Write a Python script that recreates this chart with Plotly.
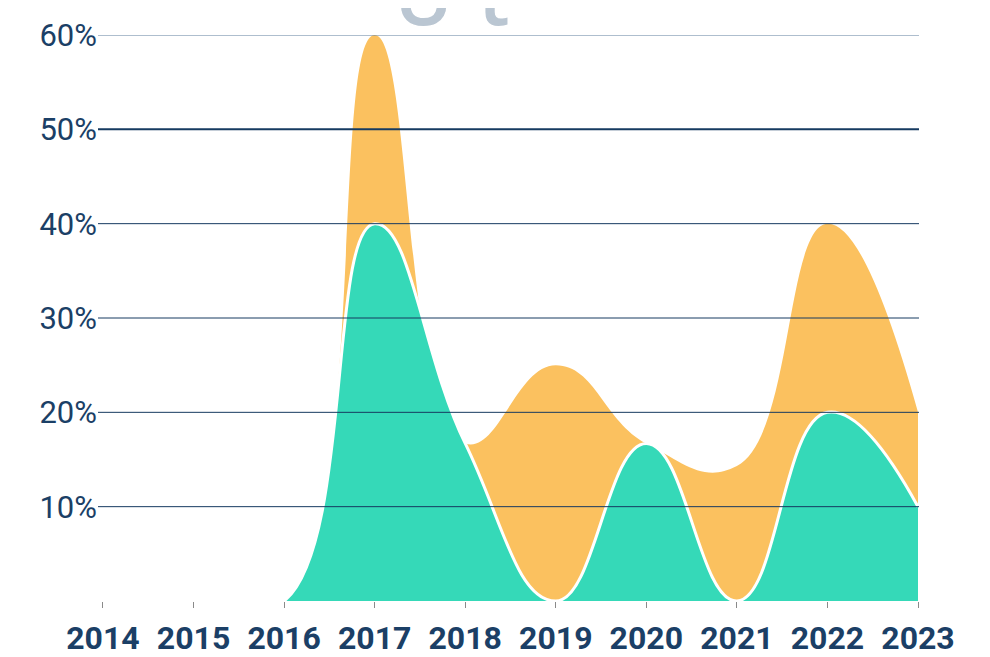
import plotly.graph_objects as go

years = [2014, 2015, 2016, 2017, 2018, 2019, 2020, 2021, 2022, 2023]
green_vals = [0, 0, 0, 40, 16.7, 0, 16.7, 0, 20, 10]
orange_vals = [0, 0, 0, 20, 0, 25, 0, 14.3, 20, 10]
total_vals = [g + o for g, o in zip(green_vals, orange_vals)]
y_ticks = [10, 20, 30, 40, 50, 60]
y_labels = ["10%", "20%", "30%", "40%", "50%", "60%"]

ORANGE = "#FBC15F"
GREEN = "#35D9B8"
NAVY = "#1B3F66"

fig = go.Figure()
fig.add_trace(go.Scatter(
    x=years, y=total_vals, mode="lines", fill="tozeroy",
    fillcolor=ORANGE, line=dict(width=0, shape="spline", smoothing=1.3, color=ORANGE),
    hoverinfo="skip", showlegend=False))
fig.add_trace(go.Scatter(
    x=years, y=green_vals, mode="lines", fill="tozeroy",
    fillcolor=GREEN, line=dict(width=3, shape="spline", smoothing=1.3, color="white"),
    hoverinfo="skip", showlegend=False))

for v in y_ticks:
    fig.add_shape(type="line", xref="paper", x0=0, x1=1, yref="y", y0=v, y1=v,
                  layer="above",
                  line=dict(color="#163A60" if v != 60 else "#5F7E9E", width=2 if v == 50 else 1))

fig.add_annotation(text="U", xref="paper", yref="paper", x=0.397, y=1, yshift=-15,
                   yanchor="bottom", showarrow=False,
                   font=dict(family="Open Sans", size=80, color="#BAC6D2", weight=600))
fig.add_annotation(text="t", xref="paper", yref="paper", x=0.482, y=1, yshift=-15,
                   yanchor="bottom", showarrow=False,
                   font=dict(family="Open Sans", size=80, color="#BAC6D2", weight=600))

fig.update_layout(
    width=982, height=649,
    margin=dict(l=90, r=71, t=27, b=56, autoexpand=False),
    paper_bgcolor="white", plot_bgcolor="white",
    xaxis=dict(range=[2013.945, 2023.011], tickvals=years, ticktext=[str(y) for y in years],
               showgrid=False, zeroline=False, showline=False, automargin=False,
               ticks="outside", ticklen=6, tickcolor="#8A8A8A", tickwidth=1,
               ticklabelstandoff=3,
               tickfont=dict(family="Roboto", size=32, color=NAVY, weight="bold")),
    yaxis=dict(range=[0, 60], tickvals=y_ticks, ticktext=y_labels, automargin=False,
               showgrid=False, zeroline=False, showline=False, ticks="",
               tickfont=dict(family="Roboto", size=31, color=NAVY)),
)

fig.write_html("out.html")
